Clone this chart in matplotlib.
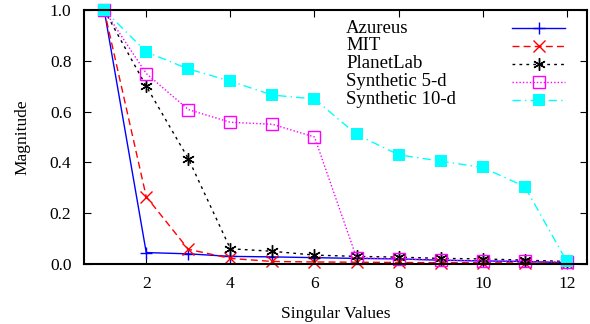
import matplotlib
matplotlib.use('Agg')
import matplotlib.pyplot as plt
from matplotlib.ticker import FormatStrFormatter

plt.rcParams['font.family'] = ['Liberation Serif', 'DejaVu Serif']

sv = [1, 2, 3, 4, 5, 6, 7, 8, 9, 10, 11, 12]
azureus = [1.0, 0.045, 0.04, 0.03, 0.028, 0.025, 0.022, 0.02, 0.015, 0.012, 0.01, 0.005]
mit = [1.0, 0.265, 0.058, 0.022, 0.01, 0.008, 0.007, 0.006, 0.005, 0.005, 0.004, 0.003]
planetlab = [1.0, 0.70, 0.415, 0.06, 0.05, 0.035, 0.03, 0.027, 0.022, 0.02, 0.015, 0.01]
synth5 = [1.0, 0.75, 0.608, 0.558, 0.55, 0.50, 0.025, 0.02, 0.015, 0.012, 0.01, 0.008]
synth10 = [1.0, 0.835, 0.768, 0.72, 0.665, 0.65, 0.51, 0.43, 0.405, 0.38, 0.305, 0.01]

fig = plt.figure(figsize=(5.9, 3.24), dpi=100)
ax = fig.add_axes([84/590, 1-264/324, 503/590, 254/324])

styles = [
    ('Azureus', azureus, dict(color='#0000ff', ls='-', marker='+', ms=9, mew=1)),
    ('MIT', mit, dict(color='#ff0000', ls=(0, (5, 3)), marker='x', ms=8, mew=1)),
    ('PlanetLab', planetlab, dict(color='black', ls=(0, (2, 3)), marker=(6, 2, 0), ms=9, mew=1)),
    ('Synthetic 5-d', synth5, dict(color='#ff00ff', ls=(0, (1, 1.5)), marker='s', ms=9, mfc='none', mew=1)),
    ('Synthetic 10-d', synth10, dict(color='#00ffff', ls=(0, (6, 3, 1, 3)), marker='s', ms=9, mfc='#00ffff', mew=0)),
]

for i, (name, vals, st) in enumerate(styles):
    ax.plot(sv, vals, lw=1, label=name, clip_on=False, **st)
    # gnuplot style key: text left, sample on the right
    y = 0.929 - i * 0.0706
    ax.text(0.521, y, name, transform=ax.transAxes, fontsize=13.5, va='center', ha='left')
    ax.plot([0.851, 0.956], [y, y], transform=ax.transAxes, lw=1,
            **{k: v for k, v in st.items() if k not in ('marker', 'ms', 'mew', 'mfc')})
    ax.plot([0.904], [y], transform=ax.transAxes, ls='none',
            **{k: v for k, v in st.items() if k != 'ls'})

ax.set_xlim(0.52, 12.48)
ax.set_ylim(0, 1.0)
ax.set_xticks([2, 4, 6, 8, 10, 12])
ax.set_yticks([0, 0.2, 0.4, 0.6, 0.8, 1.0])
ax.yaxis.set_major_formatter(FormatStrFormatter('%.1f'))
ax.tick_params(direction='in', top=True, right=True, length=5, labelsize=12.5, pad=9)
for s in ax.spines.values():
    s.set_linewidth(1.5)

ax.set_xlabel('Singular Values', fontsize=12.5, labelpad=10)
ax.set_ylabel('Magnitude', fontsize=12.5, labelpad=14)

fig.savefig('out.png', dpi=100)
